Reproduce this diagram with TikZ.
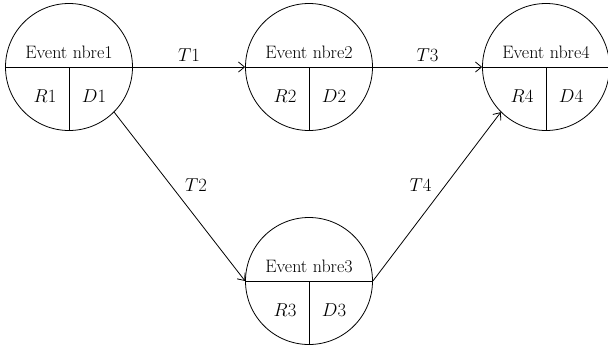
\documentclass[tikz,border=0pt]{standalone}
\usepackage{graphicx}
\usetikzlibrary{positioning,arrows.meta}
\newcommand{\evlbl}[1]{\scalebox{0.9}{#1}}
\tikzset{
  event/.style={circle,draw,line width=0.8pt,minimum size=127pt,inner sep=0pt},
}
\begin{document}
\begin{tikzpicture}[x=1pt,y=1pt,node distance=240pt,on grid,auto,
    line width=0.8pt,>={Straight Barb[length=6pt,width=10pt]},
    font=\fontsize{20}{22}\selectfont]
  \useasboundingbox (0,0) rectangle (608,-349);
  \node[event] (e1) at (69,-67) {};
  \node[event] (e2) [right=of e1] {};
  \node[event] (e4) [right=237pt of e2] {};
  \node[event] (e3) [below=214pt of e2] {};
  % split every event circle
  \foreach \n in {1,...,4}{
    \draw (e\n.west) -- (e\n.east) (e\n.center) -- (e\n.south);
    \node (ev\n) [above=15pt of e\n] {\evlbl{Event nbre\n}};
    \node (r\n) at ([shift={(-24pt,-29pt)}]e\n.center) {\evlbl{$R\n$}};
    \node (d\n) at ([shift={(25pt,-29pt)}]e\n.center) {\evlbl{$D\n$}};
  }
  \path[->,inner sep=5pt]
    (e1.east) edge node {\evlbl{$T1$}} (e2.west)
    (e2.east) edge node {\evlbl{$T3$}} (e4.west)
    (e1.-45) edge node {\evlbl{$T2$}} (e3.west)
    (e3.east) edge node {\evlbl{$T4$}} (e4.-135);
\end{tikzpicture}
\end{document}
